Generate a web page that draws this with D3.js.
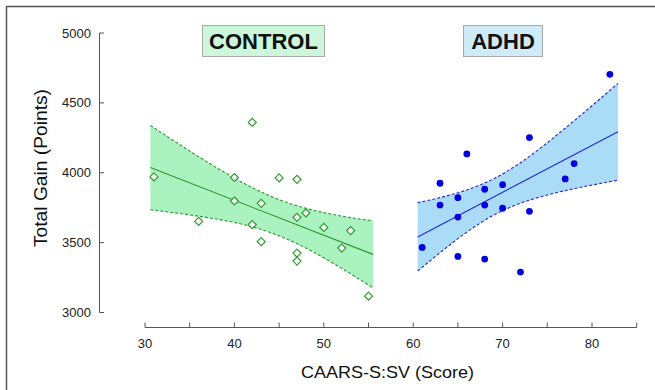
<!DOCTYPE html>
<html>
<head>
<meta charset="utf-8">
<script src="https://cdn.jsdelivr.net/npm/d3@7"></script>
<style>
	html, body { margin: 0; padding: 0; background: #fff; }
	svg { display: block; font-family: "Liberation Sans", Arial, sans-serif; }
</style>
</head>
<body>
<svg id="chart" width="655" height="390"></svg>
<script>
// tick labels
const X_TICKS = [30, 35, 40, 45, 50, 55, 60, 65, 70, 75, 80, 85];
const X_LABELS = [30, 40, 50, 60, 70, 80];
const Y_TICKS = [3000, 3500, 4000, 4500, 5000];

// CONTROL group (open diamonds)
const controlScore = [31, 36, 40, 40, 42, 42, 43, 43, 45, 47, 47, 47, 47, 48, 50, 52, 53, 55];
const controlGain = [3970, 3652, 3966, 3798, 4360, 3629, 3781, 3507, 3963, 3953, 3681, 3425, 3368, 3712, 3609, 3461, 3586, 3117];
const controlFitX = [30.6, 55.5];
const controlFitY = [4037, 3416];
const controlBandX = [30.6, 33, 36, 39, 42, 45, 48, 51, 54, 55.5];
const controlBandUpper = [4339, 4238, 4115, 3999, 3893, 3807, 3745, 3702, 3669, 3656];
const controlBandLower = [3735, 3716, 3689, 3657, 3613, 3549, 3461, 3354, 3237, 3176];

// ADHD group (filled dots)
const adhdScore = [61, 63, 63, 65, 65, 65, 66, 68, 68, 68, 70, 70, 72, 73, 73, 77, 78, 82];
const adhdGain = [3466, 3925, 3769, 3822, 3683, 3401, 4135, 3882, 3769, 3382, 3915, 3746, 3289, 4252, 3724, 3956, 4066, 4704];
const adhdFitX = [60.5, 82.9];
const adhdFitY = [3541, 4293];
const adhdBandX = [60.5, 63, 66, 69, 72, 75, 78, 81, 82.9];
const adhdBandUpper = [3786, 3822, 3877, 3957, 4072, 4215, 4372, 4534, 4639];
const adhdBandLower = [3296, 3428, 3575, 3697, 3782, 3841, 3886, 3924, 3947];

const svg = d3.select('#chart');

// outer frame (top and left only)
svg.append('path')
	.attr('d', 'M6.5,390 V6.5 H655')
	.attr('fill', 'none')
	.attr('stroke', '#555')
	.attr('stroke-width', 1.5);

var x = d3.scaleLinear().domain([30, 85]).range([145, 636.7]);
var y = d3.scaleLinear().domain([3000, 5000]).range([312.5, 33]);

const axisColor = '#555';

// Y axis
svg.append('line')
	.attr('x1', 99.5).attr('x2', 99.5)
	.attr('y1', y(5000)).attr('y2', y(3000))
	.attr('stroke', axisColor);
const yt = svg.append('g');
yt.selectAll('line').data(Y_TICKS).enter().append('line')
	.attr('x1', 99.5).attr('x2', 104)
	.attr('y1', (d) => y(d)).attr('y2', (d) => y(d))
	.attr('stroke', axisColor);
yt.selectAll('text').data(Y_TICKS).enter().append('text')
	.attr('x', 91).attr('y', (d) => y(d))
	.attr('dy', '0.35em')
	.attr('text-anchor', 'end')
	.attr('font-size', 13)
	.attr('fill', '#222')
	.text((d) => d);

// X axis
const axisY = 327.5;
svg.append('line')
	.attr('x1', x(30)).attr('x2', x(85))
	.attr('y1', axisY).attr('y2', axisY)
	.attr('stroke', axisColor);
const xt = svg.append('g');
xt.selectAll('line').data(X_TICKS).enter().append('line')
	.attr('x1', (d) => x(d)).attr('x2', (d) => x(d))
	.attr('y1', axisY).attr('y2', axisY - 5)
	.attr('stroke', axisColor);
xt.selectAll('text').data(X_LABELS).enter().append('text')
	.attr('x', (d) => x(d)).attr('y', 348)
	.attr('text-anchor', 'middle')
	.attr('font-size', 13)
	.attr('fill', '#222')
	.text((d) => d);

// axis titles
svg.append('text')
	.attr('x', 387.5).attr('y', 378)
	.attr('text-anchor', 'middle')
	.attr('font-size', 17)
	.attr('fill', '#111')
	.attr('textLength', 173)
	.attr('lengthAdjust', 'spacingAndGlyphs')
	.text('CAARS-S:SV (Score)');
svg.append('text')
	.attr('transform', 'translate(47,168) rotate(-90)')
	.attr('text-anchor', 'middle')
	.attr('font-size', 18)
	.attr('fill', '#111')
	.attr('textLength', 158)
	.attr('lengthAdjust', 'spacingAndGlyphs')
	.text('Total Gain (Points)');

// bands, fits and points
function drawGroup(bx, up, lo, fx, fy, fill, stroke) {
	const idx = d3.range(bx.length);
	const g = svg.append('g');
	g.append('path')
		.datum(idx)
		.attr('fill', fill)
		.attr('stroke', 'none')
		.attr('d', d3.area()
			.x((i) => x(bx[i]))
			.y0((i) => y(lo[i]))
			.y1((i) => y(up[i]))
			.curve(d3.curveMonotoneX));
	[up, lo].forEach((arr) => {
		g.append('path')
			.datum(idx)
			.attr('fill', 'none')
			.attr('stroke', stroke)
			.attr('stroke-width', 1.1)
			.attr('stroke-dasharray', '3,2')
			.attr('d', d3.line()
				.x((i) => x(bx[i]))
				.y((i) => y(arr[i]))
				.curve(d3.curveMonotoneX));
	});
	g.append('line')
		.attr('x1', x(fx[0])).attr('y1', y(fy[0]))
		.attr('x2', x(fx[1])).attr('y2', y(fy[1]))
		.attr('stroke', stroke)
		.attr('stroke-width', 1.1);
}

drawGroup(controlBandX, controlBandUpper, controlBandLower, controlFitX, controlFitY, '#aaf2bf', '#2f962f');
drawGroup(adhdBandX, adhdBandUpper, adhdBandLower, adhdFitX, adhdFitY, '#aadcf8', '#2626dd');

svg.append('g')
	.selectAll('path')
	.data(d3.range(controlScore.length))
	.enter()
	.append('path')
	.attr('transform', (i) => `translate(${x(controlScore[i])},${y(controlGain[i])})`)
	.attr('d', 'M0,-4 L4,0 L0,4 L-4,0 Z')
	.attr('fill', '#fff')
	.attr('stroke', '#2f9a2f')
	.attr('stroke-width', 1.2);

svg.append('g')
	.selectAll('circle')
	.data(d3.range(adhdScore.length))
	.enter()
	.append('circle')
	.attr('cx', (i) => x(adhdScore[i]))
	.attr('cy', (i) => y(adhdGain[i]))
	.attr('r', 3.4)
	.attr('fill', '#0000dd');

// group labels
function label(x0, x1, text, fill) {
	svg.append('rect')
		.attr('x', x0 + 0.5).attr('y', 25.5)
		.attr('width', x1 - x0).attr('height', 31)
		.attr('fill', fill)
		.attr('stroke', '#aaa');
	svg.append('text')
		.attr('x', (x0 + x1) / 2 + 0.5).attr('y', 48.5)
		.attr('text-anchor', 'middle')
		.attr('font-size', 22)
		.attr('font-weight', 'bold')
		.attr('fill', '#111')
		.text(text);
}
label(202, 324, 'CONTROL', '#ccf7da');
label(463, 542, 'ADHD', '#cfeaf8');
</script>
</body>
</html>
